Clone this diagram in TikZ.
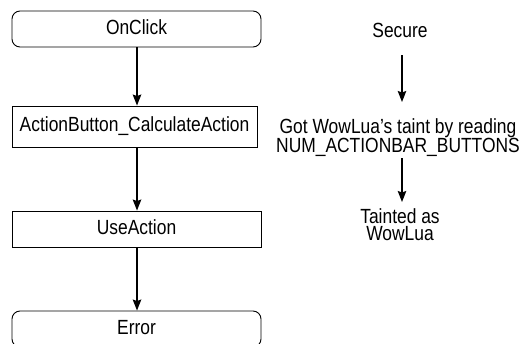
\documentclass[tikz,border=0pt]{standalone}
\usepackage{fontspec}
\setmainfont{Liberation Sans}[FakeStretch=0.85]
\usetikzlibrary{arrows.meta}
\begin{document}
\begin{tikzpicture}[x=1pt,y=-1pt,
  font=\fontsize{20.5}{16.5}\selectfont,
  box/.style={draw,line width=0.9pt,minimum height=36pt,inner sep=0pt,text height=15pt,text depth=4pt},
  term/.style={box,rounded corners=8pt},
  lbl/.style={inner sep=0pt,align=center},
  arr/.style={-{Stealth[length=11pt,width=8.5pt,inset=1.5pt]},line width=1.4pt}]
\useasboundingbox (0,0) rectangle (524,344);
\node[term,minimum width=249pt] (onclick) at (136.5,29) {OnClick};
\node[box,minimum width=245pt,minimum height=41pt] (calc) at (134.5,126.5) {ActionButton\_CalculateAction};
\node[box,minimum width=249pt] (use) at (136.5,229) {UseAction};
\node[term,minimum width=249pt] (err) at (136.5,329) {Error};
\draw[arr] (onclick.south -| 137,0) -- (calc.north -| 137,0);
\draw[arr] (calc.south -| 137,0) -- (use.north -| 137,0);
\draw[arr] (use.south -| 137,0) -- (err.north -| 137,0);

\node[lbl,anchor=base] (secure) at (400,37.5) {Secure};
\node[lbl,anchor=north] (got) at (398,118) {Got WowLua’s taint by reading\\NUM\_ACTIONBAR\_BUTTONS};
\node[lbl,anchor=north] (taint) at (400,208.5) {Tainted as\\WowLua};
\draw[arr,shorten <=17.5pt,shorten >=16pt] (secure.south -| 402,0) -- (got.north -| 402,0);
\draw[arr,shorten <=1.5pt,shorten >=6.5pt] (got.south -| 402,0) -- (taint.north -| 402,0);
\end{tikzpicture}
\end{document}
